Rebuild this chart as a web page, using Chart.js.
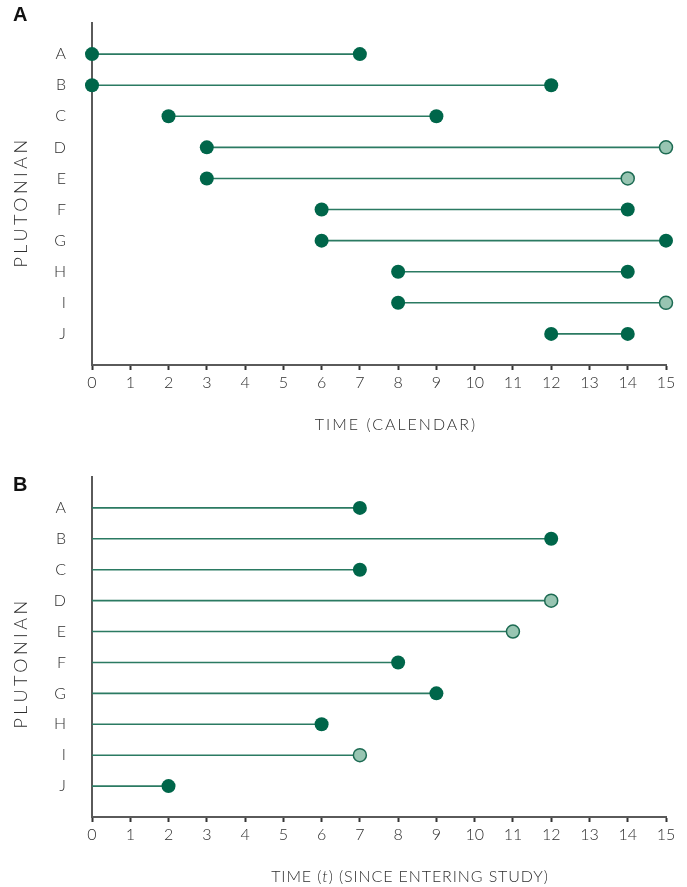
<!DOCTYPE html>
<html>
<head>
<meta charset="utf-8">
<script src="https://cdn.jsdelivr.net/npm/chart.js@4.4.1/dist/chart.umd.min.js"></script>
<style>
  html, body { margin: 0; padding: 0; background: #fff; }
  body { width: 687px; height: 887px; position: relative; overflow: hidden; }
  .panel { position: absolute; left: 0; width: 687px; }
  #panelA { top: 0; height: 445px; }
  #panelB { top: 452px; height: 435px; }
</style>
</head>
<body>
<div class="panel" id="panelA"><canvas id="chartA"></canvas></div>
<div class="panel" id="panelB"><canvas id="chartB"></canvas></div>
<script>
// subjects and follow-up times
const subjects = ['A', 'B', 'C', 'D', 'E', 'F', 'G', 'H', 'I', 'J'];
const entryTime = [0, 0, 2, 3, 3, 6, 6, 8, 8, 12];
const exitTime = [7, 12, 9, 15, 14, 14, 15, 14, 15, 14];
const censored = [false, false, false, true, true, false, false, false, true, false];
const timeInStudy = [7, 12, 7, 12, 11, 8, 9, 6, 7, 2];
const xTicks = [0, 1, 2, 3, 4, 5, 6, 7, 8, 9, 10, 11, 12, 13, 14, 15];

const dark = '#00664a';
const light = '#98c5b2';
const lineColor = '#2b7a62';
const axisColor = '#5a5a5a';
const textColor = '#2e2e2e';
const font = "'Lato', 'Open Sans', sans-serif";

function makeDatasets(starts, ends, showStart) {
  return subjects.map((s, i) => ({
    label: s,
    data: [{ x: starts[i], y: i }, { x: ends[i], y: i }],
    borderColor: lineColor,
    borderWidth: 1.6,
    pointRadius: [showStart ? 7 : 0, censored[i] ? 6.5 : 7],
    pointHoverRadius: [showStart ? 7 : 0, censored[i] ? 6.5 : 7],
    pointBackgroundColor: [dark, censored[i] ? light : dark],
    pointBorderColor: [dark, censored[i] ? '#1d6b53' : dark],
    pointBorderWidth: [0, censored[i] ? 1.5 : 0],
    clip: false
  }));
}

// panel letter and axis titles, drawn with letter spacing
function titlesPlugin(panel, letterY, yTitleShift, xTitleParts, xTitleCenter, spacing) {
  return {
    id: 'titles' + panel,
    afterDraw(chart) {
      const ctx = chart.ctx;
      const area = chart.chartArea;
      ctx.save();
      ctx.fillStyle = '#111';
      ctx.font = "bold 20px 'Liberation Sans', Arial, sans-serif";
      ctx.textBaseline = 'middle';
      ctx.fillText(panel, 13, letterY);

      ctx.fillStyle = textColor;
      // y title
      ctx.save();
      ctx.letterSpacing = '3.5px';
      ctx.font = '300 18px ' + font;
      ctx.translate(21, (area.top + area.bottom) / 2 + yTitleShift);
      ctx.rotate(-Math.PI / 2);
      ctx.textAlign = 'center';
      ctx.fillText('PLUTONIAN', 0, 0);
      ctx.restore();
      // x title (may contain an italic part)
      ctx.letterSpacing = spacing + 'px';
      let total = 0;
      const widths = xTitleParts.map(p => {
        ctx.font = (p.italic ? 'italic 300 16px ' : '300 16px ') + font;
        const w = ctx.measureText(p.text).width;
        total += w;
        return w;
      });
      let x = xTitleCenter - total / 2;
      ctx.textAlign = 'left';
      xTitleParts.forEach((p, i) => {
        ctx.font = (p.italic ? 'italic 300 16px ' : '300 16px ') + font;
        ctx.fillText(p.text, x, area.bottom + 60);
        x += widths[i];
      });
      ctx.restore();
    }
  };
}

function chartHeight(id) {
  return id === 'chartA' ? 445 : 435;
}

function makeChart(id, topPad, datasets, plugin) {
  return new Chart(document.getElementById(id), {
    type: 'line',
    data: { datasets: datasets },
    options: {
      responsive: true,
      maintainAspectRatio: false,
      animation: false,
      layout: { padding: { top: topPad, right: 21, left: 0, bottom: 0 } },
      plugins: { legend: { display: false }, tooltip: { enabled: false } },
      scales: {
        x: {
          type: 'linear',
          min: 0,
          max: 15,
          afterBuildTicks: (scale) => { scale.ticks = xTicks.map(v => ({ value: v })); },
          afterFit: (scale) => { scale.height = chartHeight(id) - 365; },
          grid: { drawOnChartArea: false, drawTicks: true, tickLength: 5, tickColor: '#333', tickWidth: 2 },
          border: { color: axisColor, width: 2 },
          ticks: { color: textColor, font: { family: font, size: 16, weight: '300' }, padding: 3, maxRotation: 0, autoSkip: false }
        },
        y: {
          type: 'linear',
          min: -1,
          max: 10,
          reverse: true,
          afterFit: (scale) => {
            scale.width = 92;
            scale.paddingTop = 0;
            scale.paddingBottom = 0;
          },
          grid: { display: false },
          border: { color: axisColor, width: 2 },
          ticks: {
            stepSize: 1,
            autoSkip: false,
            padding: 18,
            color: textColor,
            font: { family: font, size: 16, weight: '300' },
            callback: (v) => subjects[v] ?? ''
          }
        }
      }
    },
    plugins: [plugin]
  });
}

makeChart('chartA', 23, makeDatasets(entryTime, exitTime, true),
  titlesPlugin('A', 15, 8, [{ text: 'TIME (CALENDAR)' }], 396, 2));
makeChart('chartB', 25, makeDatasets(subjects.map(() => 0), timeInStudy, false),
  titlesPlugin('B', 33, 16, [{ text: 'TIME (' }, { text: 't', italic: true }, { text: ') (SINCE ENTERING STUDY)' }], 410, 0.9));
</script>
</body>
</html>
